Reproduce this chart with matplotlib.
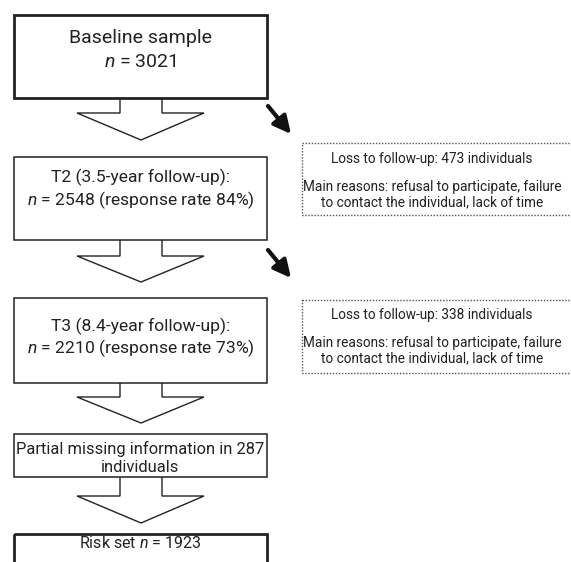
import matplotlib
matplotlib.use("Agg")
import matplotlib.pyplot as plt
from matplotlib.patches import Rectangle, Polygon, FancyArrowPatch

plt.rcParams['font.family'] = ['Roboto', 'DejaVu Sans']
plt.rcParams['mathtext.fontset'] = 'custom'
plt.rcParams['mathtext.rm'] = 'Roboto'
plt.rcParams['mathtext.it'] = 'Roboto:italic'

# flow stages (main column)
stage_lines = [
    ['Baseline sample', '$n$ = 3021'],
    ['T2 (3.5-year follow-up):', '$n$ = 2548 (response rate 84%)'],
    ['T3 (8.4-year follow-up):', '$n$ = 2210 (response rate 73%)'],
    ['Partial missing information in 287', 'individuals'],
    ['Risk set $n$ = 1923'],
]
# loss to follow-up side boxes
loss_counts = [473, 338]
loss_reasons = ['Main reasons: refusal to participate, failure',
                'to contact the individual, lack of time']

# layout in pixels (y down)
box_x0, box_x1 = 14, 267
box_tops = [15, 157, 298, 434, 534]
box_bottoms = [98, 240, 383, 477, 575]
box_lw = [2.0, 1.1, 1.1, 1.1, 2.0]
box_fs = [14, 12.6, 12.6, 11.9, 11.5]
line_y = [[38, 62], [177, 200], [326, 348], [449, 467], [543]]
stem_x0, stem_x1 = 120, 162
head_x0, head_x1 = 77, 204
head_tips = [140, 282, 423, 523]
stem_ends = [113, 256, 397, 496]

side_x0, side_x1 = 302, 580
side_tops = [143, 300]
side_bottoms = [215, 373]
side_text_y = [[159, 187, 202], [315, 343, 358]]
diag_start = [(268, 106), (268, 250)]
diag_end = [(291, 134), (291, 278)]

fig = plt.figure(figsize=(5.71, 5.62), dpi=100)
ax = fig.add_axes([0, 0, 1, 1])
ax.set_xlim(0, 571)
ax.set_ylim(562, 0)
ax.axis('off')

for i, lines in enumerate(stage_lines):
    ax.add_patch(Rectangle((box_x0, box_tops[i]), box_x1 - box_x0,
                           box_bottoms[i] - box_tops[i], fill=False,
                           ec='#222222', lw=box_lw[i]))
    for txt, y in zip(lines, line_y[i]):
        ax.text((box_x0 + box_x1) / 2, y, txt, ha='center', va='center',
                fontsize=box_fs[i], color='#222222')

# hollow block arrows between stages
for i in range(4):
    top = box_bottoms[i]
    pts = [(stem_x0, top), (stem_x0, stem_ends[i]), (head_x0, stem_ends[i]),
           ((stem_x0 + stem_x1) / 2, head_tips[i]), (head_x1, stem_ends[i]),
           (stem_x1, stem_ends[i]), (stem_x1, top)]
    ax.add_patch(Polygon(pts, closed=False, fill=False, ec='#222222', lw=1.0))

# side boxes
for k in range(2):
    ax.add_patch(Rectangle((side_x0, side_tops[k]), side_x1 - side_x0,
                           side_bottoms[k] - side_tops[k], fill=False,
                           ec='#555555', lw=1.0, ls=(0, (1, 1.2))))
    cx = 432
    ax.text(cx, side_text_y[k][0], f'Loss to follow-up: {loss_counts[k]} individuals',
            ha='center', va='center', fontsize=9.8, color='#222222')
    for txt, y in zip(loss_reasons, side_text_y[k][1:]):
        ax.text(cx, y, txt, ha='center', va='center', fontsize=9.8, color='#222222')
    ax.add_patch(FancyArrowPatch(diag_start[k], diag_end[k], arrowstyle='-|>',
                                 mutation_scale=26, lw=3, color='#111111',
                                 shrinkA=0, shrinkB=0))

fig.savefig('out.png', dpi=100)
